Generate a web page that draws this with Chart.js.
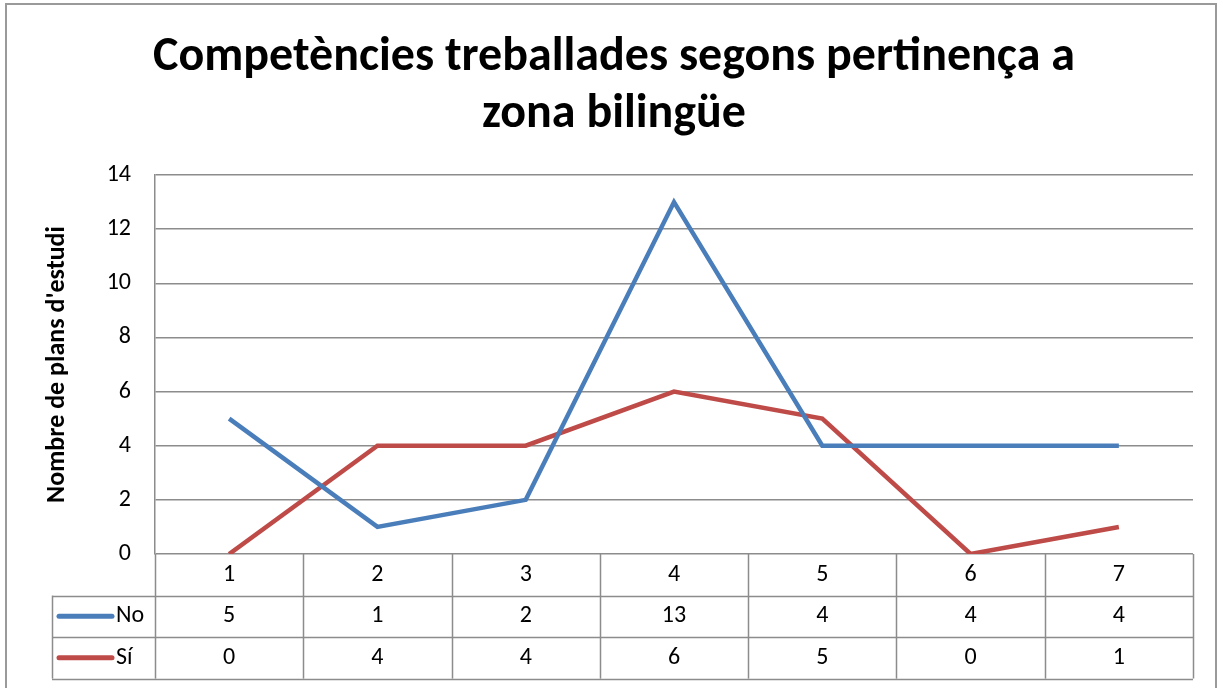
<!DOCTYPE html>
<html>
<head>
<meta charset="utf-8">
<script src="https://cdn.jsdelivr.net/npm/chart.js@4/dist/chart.umd.min.js"></script>
<style>
  html, body { margin: 0; padding: 0; background: #fff; }
  canvas { display: block; }
</style>
</head>
<body>
<canvas id="chart" width="1223" height="688"></canvas>
<script>
// data
const categories = ["1", "2", "3", "4", "5", "6", "7"];
const seriesNames = ["No", "Sí"];
const noValues = [5, 1, 2, 13, 4, 4, 4];
const siValues = [0, 4, 4, 6, 5, 0, 1];
const yTickMin = 0;
const yTickMax = 14;
const yTickStep = 2;

const FONT = "'Carlito', 'Calibri', 'Open Sans', sans-serif";
const blue = "rgb(74,126,187)";
const red = "rgb(190,75,72)";
const gridColor = "#8c8c8c";

// data table under the plot (Excel style)
const dataTablePlugin = {
  id: "dataTable",
  afterDraw(chart) {
    const ctx = chart.ctx;
    const area = chart.chartArea;
    const x = chart.scales.x;
    const half = (x.getPixelForValue(1) - x.getPixelForValue(0)) / 2;
    const top = area.bottom;
    const rowH = 41.5;
    const legendLeft = 52;
    const rows = [noValues, siValues];
    const colors = [blue, red];

    ctx.save();
    ctx.strokeStyle = gridColor;
    ctx.lineWidth = 1.5;
    ctx.beginPath();
    // horizontal lines
    for (let r = 1; r <= 3; r++) {
      const y = Math.round(top + r * rowH) + 0.5;
      ctx.moveTo(legendLeft, y);
      ctx.lineTo(area.right, y);
    }
    // vertical lines
    for (let i = 0; i <= categories.length; i++) {
      const xx = Math.round(x.getPixelForValue(0) - half + i * 2 * half) + 0.5;
      ctx.moveTo(xx, top);
      ctx.lineTo(xx, top + 3 * rowH);
    }
    ctx.moveTo(legendLeft + 0.5, top + rowH);
    ctx.lineTo(legendLeft + 0.5, top + 3 * rowH);
    ctx.stroke();

    ctx.font = "24px " + FONT;
    ctx.fillStyle = "#000";
    ctx.textBaseline = "middle";
    rows.forEach((vals, r) => {
      const cy = top + (r + 1.5) * rowH;
      // legend swatch
      ctx.strokeStyle = colors[r];
      ctx.lineWidth = 5;
      ctx.lineCap = "round";
      ctx.beginPath();
      ctx.moveTo(59, cy);
      ctx.lineTo(112, cy);
      ctx.stroke();
      ctx.textAlign = "left";
      ctx.fillText(seriesNames[r], 116, cy);
      ctx.textAlign = "center";
      vals.forEach((v, i) => {
        ctx.fillText(String(v), x.getPixelForValue(i), cy);
      });
    });

    // outer frame
    ctx.strokeStyle = "#9a9a9a";
    ctx.lineWidth = 2;
    ctx.strokeRect(6, 4, 1210, 700);
    ctx.restore();
  }
};

new Chart(document.getElementById("chart"), {
  type: "line",
  data: {
    labels: categories,
    datasets: [
      {
        label: seriesNames[0],
        data: noValues,
        borderColor: blue,
        backgroundColor: blue,
        borderWidth: 4.5,
        pointRadius: 0,
        tension: 0
      },
      {
        label: seriesNames[1],
        data: siValues,
        borderColor: red,
        backgroundColor: red,
        borderWidth: 4.5,
        pointRadius: 0,
        tension: 0
      }
    ]
  },
  options: {
    responsive: false,
    animation: false,
    devicePixelRatio: 1,
    layout: { padding: { left: 35, right: 30, top: 0, bottom: 93 } },
    plugins: {
      legend: { display: false },
      tooltip: { enabled: false },
      title: {
        display: true,
        text: ["Competències treballades segons pertinença a", "zona bilingüe"],
        color: "#000",
        font: { family: FONT, size: 48, weight: "bold", lineHeight: 57 / 48 },
        padding: { top: 29.5, bottom: 31.5 }
      }
    },
    scales: {
      x: {
        offset: true,
        grid: { display: false, drawTicks: false },
        border: { display: false },
        ticks: { color: "#000", font: { family: FONT, size: 24 }, padding: 6.5 },
        afterFit(scale) { scale.height = 41; }
      },
      y: {
        min: yTickMin,
        max: yTickMax,
        ticks: {
          stepSize: yTickStep,
          color: "#000",
          font: { family: FONT, size: 24 },
          padding: 24
        },
        grid: { color: gridColor, lineWidth: 1.5, drawTicks: false },
        border: { display: true, color: gridColor, width: 1.5 },
        title: {
          display: true,
          text: "Nombre de plans d'estudi",
          color: "#000",
          font: { family: FONT, size: 26, weight: "bold" },
          padding: { top: 6.4, bottom: 0 }
        },
        afterFit(scale) { scale.width = 120; }
      }
    }
  },
  plugins: [dataTablePlugin]
});
</script>
</body>
</html>
